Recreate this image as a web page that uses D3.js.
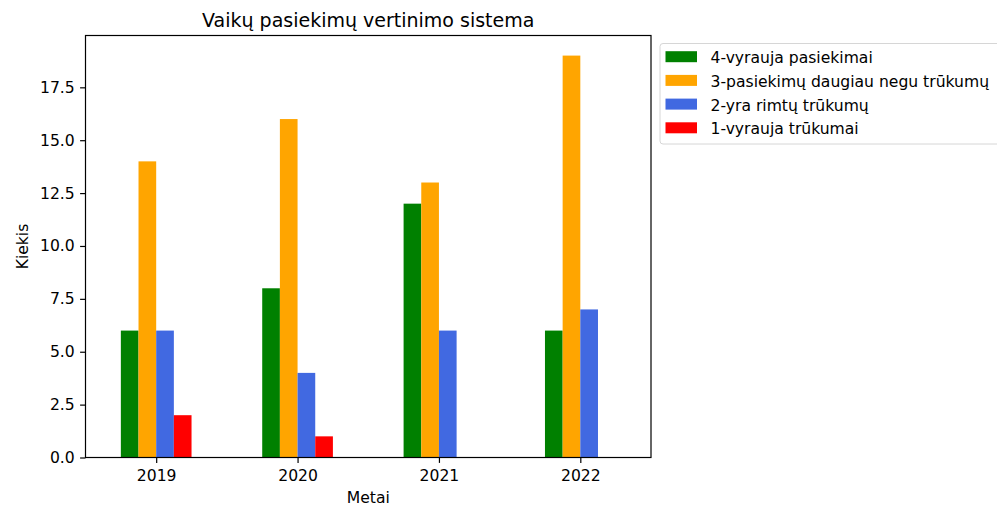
<!DOCTYPE html>
<html>
<head>
<meta charset="utf-8">
<script src="https://cdn.jsdelivr.net/npm/d3@7"></script>
<style>
  body { margin: 0; background: #fff; }
  text { font-family: "DejaVu Sans", sans-serif; fill: #000; }
</style>
</head>
<body>
<div id="chart"></div>
<script>
// data
var years = ["2019", "2020", "2021", "2022"];
var seriesNames = ["4-vyrauja pasiekimai", "3-pasiekimų daugiau negu trūkumų", "2-yra rimtų trūkumų", "1-vyrauja trūkumai"];
var seriesColors = ["green", "orange", "royalblue", "red"];
var vyraujaPasiekimai = [6, 8, 12, 6];
var daugiauNeguTrukumu = [14, 16, 13, 19];
var rimtuTrukumu = [6, 4, 6, 7];
var vyraujaTrukumai = [2, 1, 0, 0];
var yTicks = [0, 2.5, 5, 7.5, 10, 12.5, 15, 17.5];

var seriesValues = [vyraujaPasiekimai, daugiauNeguTrukumu, rimtuTrukumu, vyraujaTrukumai];

var svgWidth = 997, svgHeight = 505;
var margin = { top: 35.5, left: 85.5, right: 346, bottom: 47.5 };
var width = svgWidth - margin.left - margin.right;
var height = svgHeight - margin.top - margin.bottom;
var fs = "15.6px";

var svg = d3.select("#chart").append("svg")
  .attr("width", svgWidth)
  .attr("height", svgHeight);

var g = svg.append("g")
  .attr("transform", `translate(${margin.left}, ${margin.top})`);

// x like pandas bar plot: categories at 0..n-1, padded by half a unit
var x = d3.scaleLinear().domain([-0.5, years.length - 0.5]).range([0, width]);
var y = d3.scaleLinear().domain([0, 19.95]).range([height, 0]);

var barW = 0.5 / seriesNames.length;

seriesValues.forEach(function(vals, si) {
  var off = (si - (seriesNames.length - 1) / 2) * barW;
  g.selectAll(".bar" + si)
    .data(vals)
    .enter()
    .append("rect")
    .attr("x", (d, i) => x(i + off - barW / 2))
    .attr("width", x(barW) - x(0))
    .attr("y", d => y(d))
    .attr("height", d => y(0) - y(d))
    .attr("fill", seriesColors[si]);
});

// axes
var xAxis = d3.axisBottom(x)
  .tickValues(d3.range(years.length))
  .tickFormat(i => years[i])
  .tickSizeOuter(0)
  .tickSize(5.4)
  .tickPadding(7.5);
var yAxis = d3.axisLeft(y)
  .tickValues(yTicks)
  .tickFormat(d3.format(".1f"))
  .tickSizeOuter(0)
  .tickSize(5.4)
  .tickPadding(5.4);

var gx = g.append("g").attr("transform", `translate(0, ${height})`).call(xAxis);
var gy = g.append("g").call(yAxis);
[gx, gy].forEach(function(a) {
  a.select(".domain").remove();
  a.selectAll("text").style("font-family", "DejaVu Sans").style("font-size", fs).attr("fill", "#000");
  a.selectAll("line").attr("stroke", "#000").attr("stroke-width", 1.2);
});

// frame
g.append("rect")
  .attr("width", width)
  .attr("height", height)
  .attr("fill", "none")
  .attr("stroke", "#000")
  .attr("stroke-width", 1.2);

// title and labels
g.append("text")
  .attr("x", width / 2)
  .attr("y", -8.5)
  .attr("text-anchor", "middle")
  .style("font-size", "19px")
  .text("Vaikų pasiekimų vertinimo sistema");

g.append("text")
  .attr("x", width / 2)
  .attr("y", height + 45)
  .attr("text-anchor", "middle")
  .style("font-size", fs)
  .text("Metai");

g.append("text")
  .attr("transform", "rotate(-90)")
  .attr("x", -height / 2)
  .attr("y", -57.5)
  .attr("text-anchor", "middle")
  .style("font-size", fs)
  .text("Kiekis");

// legend outside, to the right
var legend = svg.append("g").attr("transform", "translate(660, 43.5)");
legend.append("rect")
  .attr("width", 345)
  .attr("height", 100.5)
  .attr("rx", 3)
  .attr("fill", "#fff")
  .attr("stroke", "#d6d6d6")
  .attr("stroke-width", 1);

var item = legend.selectAll(".item")
  .data(seriesNames)
  .enter()
  .append("g")
  .attr("transform", (d, i) => `translate(0, ${13.2 + i * 23.7})`);
item.append("rect")
  .attr("x", 5.5)
  .attr("y", -5.5)
  .attr("width", 31.5)
  .attr("height", 11)
  .attr("fill", (d, i) => seriesColors[i]);
item.append("text")
  .attr("x", 710.5 - 660)
  .attr("y", 6.5)
  .style("font-size", fs)
  .text(d => d);
</script>
</body>
</html>
